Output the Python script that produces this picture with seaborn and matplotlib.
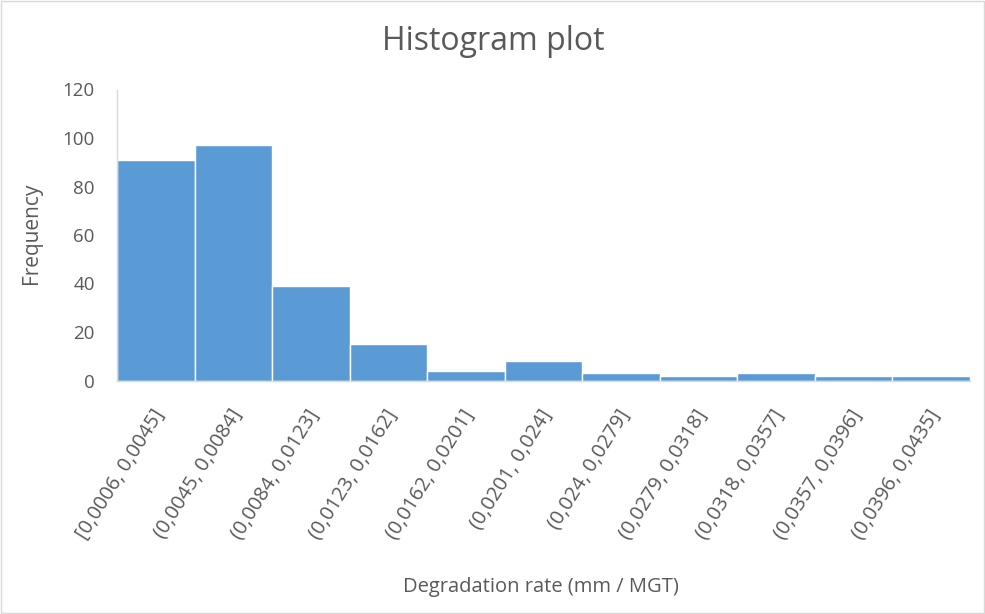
import matplotlib
matplotlib.use("Agg")
import matplotlib.pyplot as plt
import matplotlib.transforms as mtransforms
from matplotlib.patches import Rectangle
import seaborn as sns
import pandas as pd

# Bin labels (degradation-rate intervals) and their frequencies
bins = [
    "[0,0006, 0,0045]", "(0,0045, 0,0084]", "(0,0084, 0,0123]",
    "(0,0123, 0,0162]", "(0,0162, 0,0201]", "(0,0201, 0,024]",
    "(0,024, 0,0279]", "(0,0279, 0,0318]", "(0,0318, 0,0357]",
    "(0,0357, 0,0396]", "(0,0396, 0,0435]",
]
frequency = [91, 97, 39, 15, 4, 8, 3, 2, 3, 2, 2]
y_ticks = [0, 20, 40, 60, 80, 100, 120]

df = pd.DataFrame({"bin": bins, "frequency": frequency})

sns.set_theme(style="white")
plt.rcParams["font.family"] = ["Open Sans", "DejaVu Sans"]

text_color = "#595959"
axis_color = "#D9D9D9"
bar_color = "#5B9BD5"

fig = plt.figure(figsize=(9.85, 6.14), dpi=100)
ax = fig.add_axes([117 / 985, 1 - 380.5 / 614, (970 - 117) / 985, (380.5 - 89.5) / 614])

sns.barplot(data=df, x="bin", y="frequency", color=bar_color, width=1.0,
            edgecolor="white", linewidth=1.0, saturation=1, ax=ax)

ax.set_xlim(-0.5, len(bins) - 0.5)
ax.set_ylim(0, 120)
ax.set_yticks(y_ticks)
ax.set_yticklabels([str(v) for v in y_ticks], fontsize=13.5, color=text_color)
ax.tick_params(axis="y", length=0, pad=16)
ax.tick_params(axis="x", length=0, pad=22)

ax.set_xticks(range(len(bins)))
ax.set_xticklabels(bins, rotation=58, ha="right", va="center",
                   rotation_mode="anchor", fontsize=14.5, color=text_color)
shift = mtransforms.ScaledTranslation(4 / 100, 0, fig.dpi_scale_trans)
for lbl in ax.get_xticklabels():
    lbl.set_transform(lbl.get_transform() + shift)

for side in ["top", "right"]:
    ax.spines[side].set_visible(False)
for side in ["left", "bottom"]:
    ax.spines[side].set_color(axis_color)
    ax.spines[side].set_linewidth(1.0)

ax.set_xlabel("")
ax.set_ylabel("")
fig.text(541 / 985, 1 - 587 / 614, "Degradation rate (mm / MGT)",
         ha="center", va="center", fontsize=14.5, color=text_color)
fig.text(32 / 985, 1 - 233 / 614, "Frequency", rotation=90,
         ha="center", va="center", fontsize=15, color=text_color)
fig.text(493 / 985, 1 - 42 / 614, "Histogram plot",
         ha="center", va="center", fontsize=23, color=text_color)

# Light chart border
fig.patches.append(Rectangle((0.001, 0.001), 0.998, 0.998, transform=fig.transFigure,
                             fill=False, edgecolor=axis_color, linewidth=1.0))

fig.savefig("out.png", dpi=100, facecolor="white")
